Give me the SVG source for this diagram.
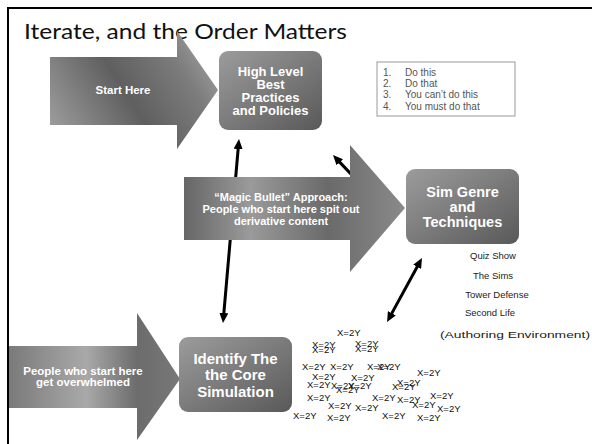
<svg xmlns="http://www.w3.org/2000/svg" width="592" height="444" viewBox="0 0 592 444">
  <style>
    .title { font-family: Lato, "Liberation Sans", sans-serif; font-size: 22px; fill: #111; }
    .lbl { font-family: "Liberation Sans", Arial, sans-serif; font-weight: bold; fill: #fff; text-anchor: middle; }
    .list { font-family: "Liberation Sans", Arial, sans-serif; font-size: 10px; fill: #555; }
    .note { font-family: "Liberation Sans", Arial, sans-serif; font-size: 9.5px; fill: #222; text-anchor: middle; }
    .eq { font-family: "Liberation Sans", Arial, sans-serif; font-size: 9.5px; fill: #111; }
    .conn { stroke: #000; stroke-width: 3; fill: none; }
  </style>
  <defs>
    <marker id="head" viewBox="0 0 10 9" refX="3" refY="4.5" markerWidth="10" markerHeight="9" markerUnits="userSpaceOnUse" orient="auto-start-reverse">
      <path d="M0,0 L10,4.5 L0,9 z" fill="#000"/>
    </marker>
    <linearGradient id="gStart" gradientUnits="userSpaceOnUse" x1="50" y1="140" x2="218" y2="35">
      <stop offset="0" stop-color="#a2a2a2"/>
      <stop offset="0.45" stop-color="#5f5f5f"/>
      <stop offset="0.75" stop-color="#7c7c7c"/>
      <stop offset="1" stop-color="#adadad"/>
    </linearGradient>
    <linearGradient id="gMagic" gradientUnits="userSpaceOnUse" x1="184" y1="0" x2="405" y2="0">
      <stop offset="0" stop-color="#666"/>
      <stop offset="0.3" stop-color="#9a9a9a"/>
      <stop offset="0.65" stop-color="#6a6a6a"/>
      <stop offset="1" stop-color="#8a8a8a"/>
    </linearGradient>
    <linearGradient id="gPeople" gradientUnits="userSpaceOnUse" x1="9" y1="0" x2="180" y2="0">
      <stop offset="0" stop-color="#7a7a7a"/>
      <stop offset="0.45" stop-color="#a9a9a9"/>
      <stop offset="0.75" stop-color="#6c6c6c"/>
      <stop offset="1" stop-color="#787878"/>
    </linearGradient>
    <linearGradient id="gBox" x1="0" y1="0" x2="1" y2="1">
      <stop offset="0" stop-color="#9c9c9c"/>
      <stop offset="1" stop-color="#595959"/>
    </linearGradient>
  </defs>

  <rect width="592" height="444" fill="#fff"/>
  <!-- slide frame -->
  <path d="M8,444 V8 H592" fill="none" stroke="#000" stroke-width="2"/>

  <text class="title" x="24" y="39" textLength="323" lengthAdjust="spacingAndGlyphs">Iterate, and the Order Matters</text>

  <g id="connectors">
    <line class="conn" x1="238.4" y1="146" x2="223.6" y2="316" marker-start="url(#head)" marker-end="url(#head)"/>
    <line class="conn" x1="337.8" y1="160.1" x2="385" y2="210" marker-start="url(#head)"/>
    <line class="conn" x1="418.6" y1="264.2" x2="390.4" y2="315.9" marker-start="url(#head)" marker-end="url(#head)"/>
  </g>

  <g id="start-here">
    <polygon points="50,57 177,57 177,31 218,90 177,149 177,125 50,125" fill="url(#gStart)"/>
    <text class="lbl" x="123" y="94" font-size="11.5">Start Here</text>
  </g>

  <g id="high-level">
    <rect x="219" y="51" width="103" height="79" rx="9" fill="url(#gBox)"/>
    <text class="lbl" font-size="13" x="270.5" y="76">High Level</text>
    <text class="lbl" font-size="13" x="270.5" y="89">Best</text>
    <text class="lbl" font-size="13" x="270.5" y="102">Practices</text>
    <text class="lbl" font-size="13" x="270.5" y="115">and Policies</text>
  </g>

  <g id="todo-list">
    <rect x="377" y="62" width="138" height="54" fill="#fff" stroke="#999" stroke-width="1"/>
    <text class="list" x="383" y="75.5">1.</text><text class="list" x="405" y="75.5">Do this</text>
    <text class="list" x="383" y="86.5">2.</text><text class="list" x="405" y="86.5">Do that</text>
    <text class="list" x="383" y="97.5">3.</text><text class="list" x="405" y="97.5">You can’t do this</text>
    <text class="list" x="383" y="109.5">4.</text><text class="list" x="405" y="109.5">You must do that</text>
  </g>

  <g id="magic-bullet">
    <polygon points="184,177 350,177 350,145 405,208 350,272 350,240 184,240" fill="url(#gMagic)"/>
    <text class="lbl" font-size="11" x="281" y="201">“Magic Bullet” Approach:</text>
    <text class="lbl" font-size="11" x="281" y="213">People who start here spit out</text>
    <text class="lbl" font-size="11" x="281" y="225">derivative content</text>
  </g>

  <g id="sim-genre">
    <rect x="406" y="169" width="113" height="75" rx="9" fill="url(#gBox)"/>
    <text class="lbl" font-size="14.5" x="462.5" y="197">Sim Genre</text>
    <text class="lbl" font-size="14.5" x="462.5" y="212">and</text>
    <text class="lbl" font-size="14.5" x="462.5" y="227">Techniques</text>
  </g>

  <g id="genres">
    <text class="note" x="493" y="258.5">Quiz Show</text>
    <text class="note" x="493" y="278.5">The Sims</text>
    <text class="note" x="497" y="297.5">Tower Defense</text>
    <text class="note" x="490" y="315.5">Second Life</text>
    <text class="note" x="515" y="337.5" font-size="12.5" textLength="150" lengthAdjust="spacingAndGlyphs">(Authoring Environment)</text>
  </g>

  <g id="overwhelmed">
    <polygon points="9,346 137,346 137,313 180,379 137,440 137,408 9,408" fill="url(#gPeople)"/>
    <text class="lbl" font-size="11.5" x="83" y="375">People who start here</text>
    <text class="lbl" font-size="11.5" x="83" y="386">get overwhelmed</text>
  </g>

  <g id="core-simulation">
    <rect x="179" y="337" width="113" height="75" rx="9" fill="url(#gBox)"/>
    <text class="lbl" font-size="15" x="235.5" y="364">Identify The</text>
    <text class="lbl" font-size="15" x="235.5" y="380">the Core</text>
    <text class="lbl" font-size="15" x="235.5" y="397">Simulation</text>
  </g>

  <!-- a scatter of equations, deliberately piled on one another -->
  <g id="equations">
    <text class="eq" x="337" y="336">X=2Y</text>
    <text class="eq" x="312" y="348">X=2Y</text>
    <text class="eq" x="312" y="353">X=2Y</text>
    <text class="eq" x="355" y="347">X=2Y</text>
    <text class="eq" x="355" y="352">X=2Y</text>
    <text class="eq" x="302" y="370">X=2Y</text>
    <text class="eq" x="330" y="370">X=2Y</text>
    <text class="eq" x="367" y="370">X=2Y</text>
    <text class="eq" x="377" y="370">X=2Y</text>
    <text class="eq" x="417" y="376">X=2Y</text>
    <text class="eq" x="312" y="380">X=2Y</text>
    <text class="eq" x="351" y="381">X=2Y</text>
    <text class="eq" x="307" y="388">X=2Y</text>
    <text class="eq" x="331" y="389">X=2Y</text>
    <text class="eq" x="336" y="393">X=2Y</text>
    <text class="eq" x="348" y="389">X=2Y</text>
    <text class="eq" x="397" y="386">X=2Y</text>
    <text class="eq" x="392" y="390">X=2Y</text>
    <text class="eq" x="307" y="401">X=2Y</text>
    <text class="eq" x="328" y="409">X=2Y</text>
    <text class="eq" x="372" y="401">X=2Y</text>
    <text class="eq" x="397" y="403">X=2Y</text>
    <text class="eq" x="412" y="408">X=2Y</text>
    <text class="eq" x="430" y="399">X=2Y</text>
    <text class="eq" x="437" y="412">X=2Y</text>
    <text class="eq" x="355" y="411">X=2Y</text>
    <text class="eq" x="293" y="419">X=2Y</text>
    <text class="eq" x="327" y="421">X=2Y</text>
    <text class="eq" x="382" y="419">X=2Y</text>
    <text class="eq" x="417" y="421">X=2Y</text>
  </g>
</svg>
